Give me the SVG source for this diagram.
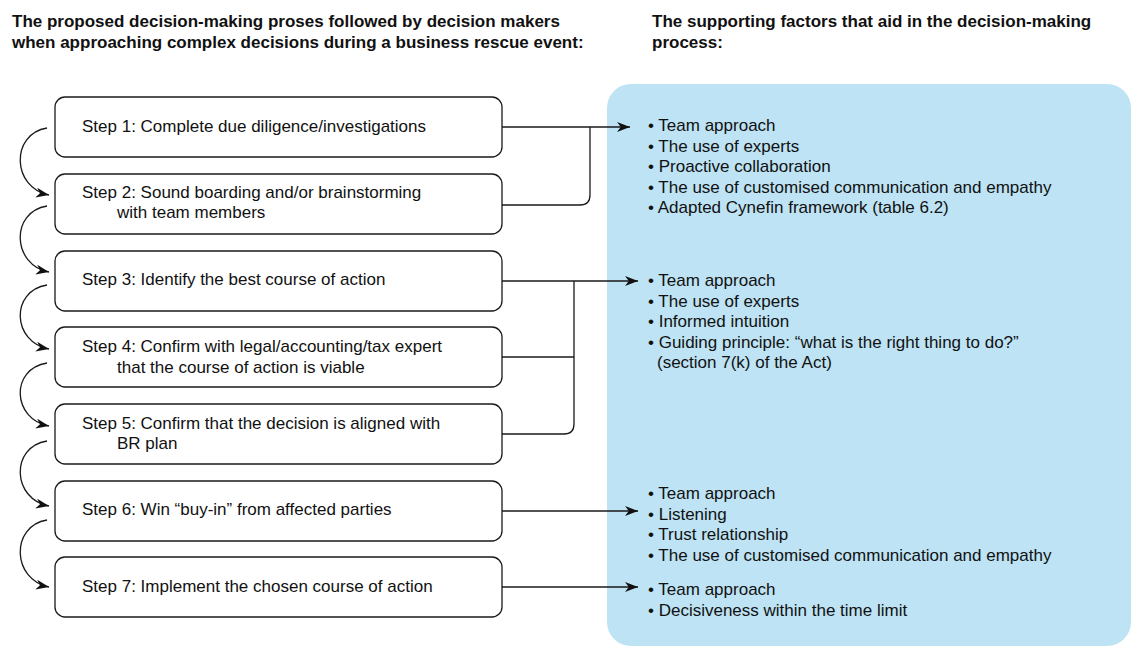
<svg xmlns="http://www.w3.org/2000/svg" width="1132" height="646" viewBox="0 0 1132 646">
  <style>
    .title { font-family: "Liberation Sans", Arial, sans-serif; font-size: 17px; font-weight: bold; fill: #111; }
    .txt { font-family: "Liberation Sans", Arial, sans-serif; font-size: 17px; fill: #111; }
    .box { fill: #ffffff; stroke: #1a1a1a; stroke-width: 1.3; }
    .conn { fill: none; stroke: #1a1a1a; stroke-width: 1.3; }
  </style>
  <defs>
    <marker id="arrow" markerUnits="userSpaceOnUse" markerWidth="16" markerHeight="12" refX="13" refY="5" orient="auto">
      <path d="M0,0 L13,5 L0,10 L3.8,5 z" fill="#111"/>
    </marker>
  </defs>

  <rect width="1132" height="646" fill="#ffffff"/>

  <!-- column headings -->
  <g id="headings">
    <text class="title" x="12" y="27">The proposed decision-making proses followed by decision makers</text>
    <text class="title" x="12" y="48">when approaching complex decisions during a business rescue event:</text>
    <text class="title" x="652" y="27">The supporting factors that aid in the decision-making</text>
    <text class="title" x="652" y="48">process:</text>
  </g>

  <!-- supporting factors panel -->
  <g id="factors-panel">
    <rect x="607" y="84" width="524" height="562" rx="24" fill="#bde3f4"/>
  </g>

  <!-- process steps -->
  <g id="step1">
    <rect class="box" x="55" y="97" width="447" height="60" rx="10"/>
    <text class="txt" x="82" y="132">Step 1: Complete due diligence/investigations</text>
  </g>
  <g id="step2">
    <rect class="box" x="55" y="174" width="447" height="60" rx="10"/>
    <text class="txt" x="82" y="198">Step 2: Sound boarding and/or brainstorming</text>
    <text class="txt" x="117" y="218">with team members</text>
  </g>
  <g id="step3">
    <rect class="box" x="55" y="251" width="447" height="60" rx="10"/>
    <text class="txt" x="82" y="285">Step 3: Identify the best course of action</text>
  </g>
  <g id="step4">
    <rect class="box" x="55" y="327" width="447" height="60" rx="10"/>
    <text class="txt" x="82" y="352">Step 4: Confirm with legal/accounting/tax expert</text>
    <text class="txt" x="117" y="373">that the course of action is viable</text>
  </g>
  <g id="step5">
    <rect class="box" x="55" y="404" width="447" height="60" rx="10"/>
    <text class="txt" x="82" y="429">Step 5: Confirm that the decision is aligned with</text>
    <text class="txt" x="117" y="449">BR plan</text>
  </g>
  <g id="step6">
    <rect class="box" x="55" y="481" width="447" height="60" rx="10"/>
    <text class="txt" x="82" y="515">Step 6: Win “buy-in” from affected parties</text>
  </g>
  <g id="step7">
    <rect class="box" x="55" y="557" width="447" height="60" rx="10"/>
    <text class="txt" x="82" y="592">Step 7: Implement the chosen course of action</text>
  </g>

  <!-- factor lists -->
  <g id="factors1">
    <text class="txt" x="648" y="131">• Team approach</text>
    <text class="txt" x="648" y="151.6">• The use of experts</text>
    <text class="txt" x="648" y="172.2">• Proactive collaboration</text>
    <text class="txt" x="648" y="192.8">• The use of customised communication and empathy</text>
    <text class="txt" x="648" y="213.4">• Adapted Cynefin framework (table 6.2)</text>
  </g>
  <g id="factors2">
    <text class="txt" x="648" y="286">• Team approach</text>
    <text class="txt" x="648" y="306.6">• The use of experts</text>
    <text class="txt" x="648" y="327.2">• Informed intuition</text>
    <text class="txt" x="648" y="347.8">• Guiding principle: “what is the right thing to do?”</text>
    <text class="txt" x="657" y="368.4">(section 7(k) of the Act)</text>
  </g>
  <g id="factors3">
    <text class="txt" x="648" y="499">• Team approach</text>
    <text class="txt" x="648" y="519.6">• Listening</text>
    <text class="txt" x="648" y="540.2">• Trust relationship</text>
    <text class="txt" x="648" y="560.8">• The use of customised communication and empathy</text>
  </g>
  <g id="factors4">
    <text class="txt" x="648" y="595">• Team approach</text>
    <text class="txt" x="648" y="615.6">• Decisiveness within the time limit</text>
  </g>

  <!-- connectors -->
  <g id="connectors">
    <!-- step-to-step flow on the left -->
    <path class="conn" d="M47,128 C10,134 12,188 49,195" marker-end="url(#arrow)"/>
    <path class="conn" d="M47,206 C10,212 12,265 49,272" marker-end="url(#arrow)"/>
    <path class="conn" d="M47,285 C10,291 12,342 49,349" marker-end="url(#arrow)"/>
    <path class="conn" d="M47,363 C10,369 12,419 49,426" marker-end="url(#arrow)"/>
    <path class="conn" d="M47,441 C10,447 12,499 49,506" marker-end="url(#arrow)"/>
    <path class="conn" d="M47,520 C10,526 12,580 49,587" marker-end="url(#arrow)"/>

    <!-- steps 1-2 to factors -->
    <path class="conn" d="M502,127 H630" marker-end="url(#arrow)"/>
    <path class="conn" d="M502,205 H580 Q590,205 590,195 V127"/>

    <!-- steps 3-5 to factors -->
    <path class="conn" d="M502,281 H638" marker-end="url(#arrow)"/>
    <path class="conn" d="M502,357 H574"/>
    <path class="conn" d="M502,434 H564 Q574,434 574,424 V281"/>

    <!-- step 6 to factors -->
    <path class="conn" d="M502,511 H638" marker-end="url(#arrow)"/>

    <!-- step 7 to factors -->
    <path class="conn" d="M502,587 H638" stroke-width="1.7" marker-end="url(#arrow)"/>
  </g>
</svg>
